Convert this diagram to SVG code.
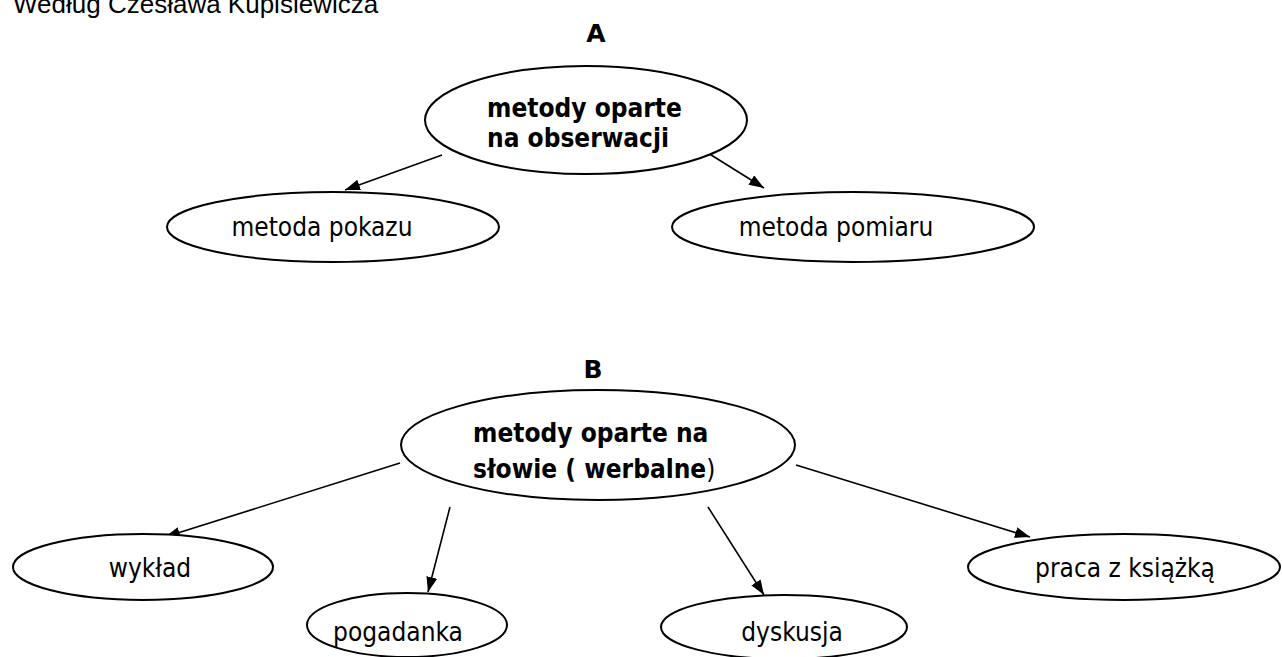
<svg xmlns="http://www.w3.org/2000/svg" width="1282" height="657" viewBox="0 0 1282 657">
<defs>
<marker id="ah" markerWidth="15" markerHeight="11" refX="15" refY="5.5" orient="auto" markerUnits="userSpaceOnUse">
<path d="M0,0 L15,5.5 L0,11 Z" fill="#000"/>
</marker>
<style>
.n{fill:#fff;stroke:#000;stroke-width:2}
.t{font-family:"DejaVu Sans Condensed","DejaVu Sans",Verdana,sans-serif;font-stretch:condensed;font-size:26px;fill:#000}
.b{font-family:"DejaVu Sans Condensed","DejaVu Sans",Verdana,sans-serif;font-stretch:condensed;font-size:26px;font-weight:bold;fill:#000}
.h{font-family:"DejaVu Sans",Verdana,sans-serif;font-size:25px;font-weight:bold;fill:#000}
.c{stroke:#000;stroke-width:1.6;fill:none;marker-end:url(#ah)}
</style>
</defs>
<rect width="1282" height="657" fill="#fff"/>
<text x="13" y="13" font-family="Liberation Sans, Arial, sans-serif" font-size="26" fill="#000">Według Czesława Kupisiewicza</text>
<text class="h" x="596" y="42" text-anchor="middle">A</text>
<text class="h" x="593" y="378" text-anchor="middle">B</text>
<g id="connectors">
<line class="c" x1="442" y1="155" x2="345" y2="190"/>
<line class="c" x1="708" y1="153" x2="764" y2="188"/>
<line class="c" x1="400" y1="463" x2="165" y2="537"/>
<line class="c" x1="450" y1="507" x2="428" y2="592"/>
<line class="c" x1="708" y1="507" x2="764" y2="595"/>
<line class="c" x1="796" y1="465" x2="1030" y2="537"/>
</g>
<g id="nodeA">
<ellipse class="n" cx="586" cy="120" rx="161" ry="54"/>
<text class="b" x="487" y="117">metody oparte</text>
<text class="b" x="487" y="147">na obserwacji</text>
</g>
<g id="pokaz">
<ellipse class="n" cx="333" cy="227" rx="166" ry="35"/>
<text class="t" x="322" y="236" text-anchor="middle">metoda pokazu</text>
</g>
<g id="pomiar">
<ellipse class="n" cx="853" cy="227" rx="181" ry="35"/>
<text class="t" x="836" y="236" text-anchor="middle">metoda pomiaru</text>
</g>
<g id="nodeB">
<ellipse class="n" cx="598" cy="445" rx="197" ry="55"/>
<text class="b" x="473" y="442">metody oparte na</text>
<text class="b" x="473" y="478">słowie ( werbalne<tspan font-weight="normal">)</tspan></text>
</g>
<g id="wyklad">
<ellipse class="n" cx="143" cy="567" rx="130" ry="33"/>
<text class="t" x="150" y="577" text-anchor="middle">wykład</text>
</g>
<g id="pogadanka">
<ellipse class="n" cx="407" cy="625" rx="100" ry="32"/>
<text class="t" x="398" y="641" text-anchor="middle">pogadanka</text>
</g>
<g id="dyskusja">
<ellipse class="n" cx="784" cy="627" rx="123" ry="32"/>
<text class="t" x="792" y="641" text-anchor="middle">dyskusja</text>
</g>
<g id="praca">
<ellipse class="n" cx="1124" cy="567" rx="156" ry="33"/>
<text class="t" x="1125" y="577" text-anchor="middle">praca z książką</text>
</g>
</svg>
